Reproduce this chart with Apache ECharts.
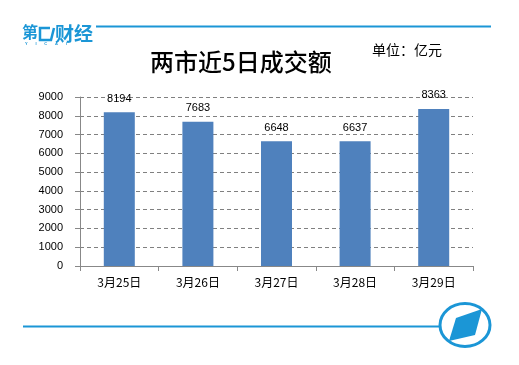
<!DOCTYPE html>
<html><head><meta charset="utf-8">
<script src="https://cdn.jsdelivr.net/npm/echarts@6/dist/echarts.min.js"></script>
<style>html,body{margin:0;padding:0;background:#fff}#c{width:519px;height:365px}</style>
</head><body><div id="c"></div>
<script>
var categories = ['3月25日','3月26日','3月27日','3月28日','3月29日'];
var values = [8194, 7683, 6648, 6637, 8363];
var yTicks = [0,1000,2000,3000,4000,5000,6000,7000,8000,9000];

var chart = echarts.init(document.getElementById('c'), null, {renderer:'canvas'});
var blue = '#1B96D6';
chart.setOption({
  animation:false,
  backgroundColor:'#fff',
  grid:{left:80, right:46, top:97, bottom:99},
  xAxis:{type:'category', data:categories,
    axisLine:{lineStyle:{color:'#888'}},
    axisTick:{show:true, length:5, lineStyle:{color:'#888'}},
    axisLabel:{color:'#000', fontSize:12, margin:10, fontFamily:'Noto Sans CJK SC'}
  },
  yAxis:{type:'value', min:yTicks[0], max:yTicks[yTicks.length-1], interval:1000,
    axisLine:{show:true, lineStyle:{color:'#888'}},
    axisTick:{show:true, length:5, lineStyle:{color:'#888'}},
    axisLabel:{color:'#000', fontSize:11, margin:17, fontFamily:'Liberation Sans', formatter:function(v){return String(v);}},
    splitLine:{show:true, lineStyle:{color:'#808080', type:[4,3], width:1}}
  },
  series:[{type:'bar', data:values, barWidth:31,
    itemStyle:{color:'#4F81BD'},
    label:{show:true, position:'top', distance:8, color:'#000', fontSize:11, fontFamily:'Liberation Sans'}
  }],
  graphic:[
    {type:'line', shape:{x1:96,y1:26.5,x2:491,y2:26.5}, style:{stroke:blue, lineWidth:2}},
    {type:'text', left:22, top:24, style:{text:'第', fill:blue, font:'bold 16px "Noto Sans CJK SC"'}},
    {type:'polyline', shape:{points:[[50,28],[40,28],[40,40],[51,40],[54,28]]}, style:{stroke:blue, lineWidth:2.5, fill:'none'}},
    {type:'text', left:55, top:24, style:{text:'财经', fill:blue, font:'bold 19px "Noto Sans CJK SC"'}},
    {type:'text', left:25, top:42, style:{text:'Y       I       C       A       I', fill:blue, font:'bold 4px "Liberation Sans"'}},
    {type:'text', left:150, top:50, style:{text:'两市近5日成交额', fill:'#000', font:'500 24px "Noto Sans CJK SC"'}},
    {type:'text', left:372, top:43, style:{text:'单位：亿元', fill:'#000', font:'14px "Noto Sans CJK SC"'}},
    {type:'line', shape:{x1:23,y1:326.5,x2:440,y2:326.5}, style:{stroke:blue, lineWidth:2}},
    {type:'ellipse', shape:{cx:465, cy:325, rx:25, ry:21.5}, style:{fill:'none', stroke:blue, lineWidth:3}},
    {type:'polygon', shape:{points:[[456,318],[482,309],[475,335],[449,341]]}, style:{fill:blue}}
  ]
});
</script></body></html>
